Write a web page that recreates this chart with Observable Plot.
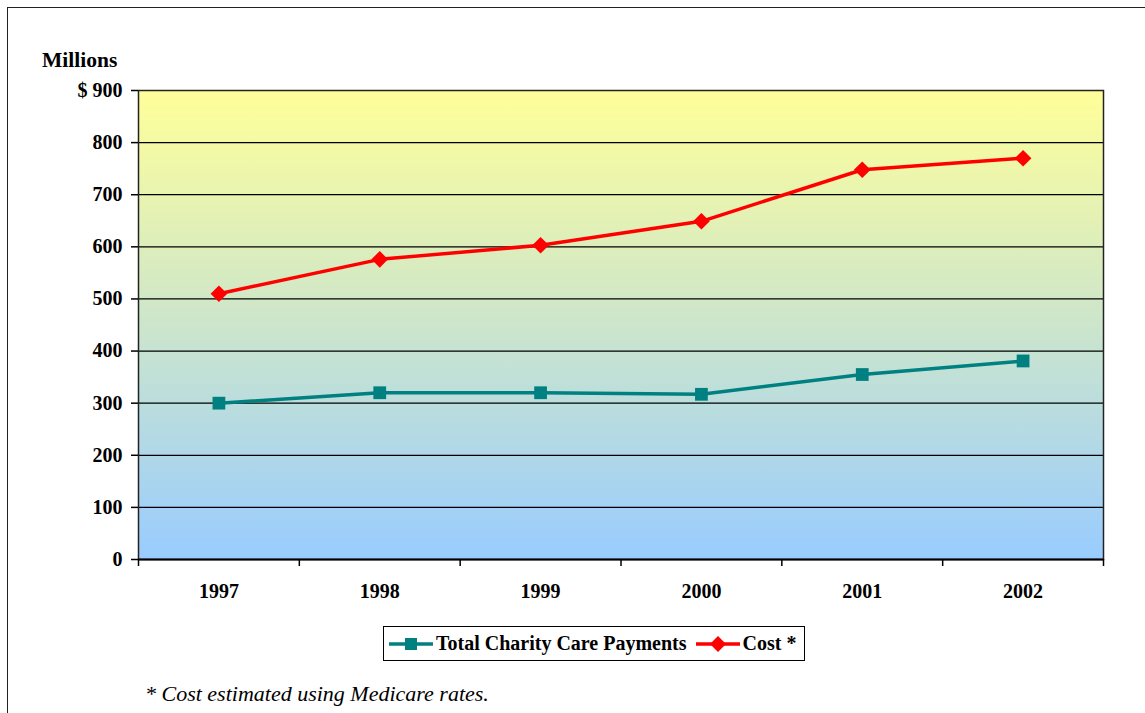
<!DOCTYPE html>
<html>
<head>
<meta charset="utf-8">
<script src="https://cdn.jsdelivr.net/npm/d3@7"></script>
<script src="https://cdn.jsdelivr.net/npm/@observablehq/plot@0.6"></script>
<style>
  html, body { margin: 0; padding: 0; background: #fff; }
  body { width: 1145px; height: 713px; position: relative; overflow: hidden; font-family: "Liberation Serif", "Times New Roman", serif; }
  #frame { position: absolute; left: 7px; top: 7px; width: 1150px; height: 720px; border-top: 1.5px solid #222; border-left: 1.5px solid #222; }
  #chart { position: absolute; left: 0; top: 0; }
  #ylabel { position: absolute; left: 42px; top: 50px; font-weight: bold; font-size: 21.5px; line-height: 1; }
  #legend { position: absolute; left: 383px; top: 626px; width: 422px; height: 35px; box-sizing: border-box; border: 1.5px solid #000; display: flex; align-items: center; font-weight: bold; font-size: 20px; background: #fff; }
  #legend svg { display: block; }
  #legend .item { display: flex; align-items: center; }
  #note { position: absolute; left: 145px; top: 683px; font-style: italic; font-size: 22px; line-height: 1; }
</style>
</head>
<body>
<div id="frame"></div>
<div id="chart"></div>
<div id="ylabel">Millions</div>
<div id="legend"></div>
<div id="note">* Cost estimated using Medicare rates.</div>
<script>
const years = ["1997", "1998", "1999", "2000", "2001", "2002"];
const charityPayments = [300, 320, 320, 317, 355, 381];
const costValues = [510, 576, 603, 649, 748, 770];
const yTicks = [0, 100, 200, 300, 400, 500, 600, 700, 800, 900];
const gridTicks = [100, 200, 300, 400, 500, 600, 700, 800];
const seriesNames = ["Total Charity Care Payments", "Cost *"];
const colors = { charity: "#008080", cost: "#FF0000" };

const charity = years.map((y, i) => ({ i: i + 0.5, year: y, v: charityPayments[i] }));
const cost = years.map((y, i) => ({ i: i + 0.5, year: y, v: costValues[i] }));
const edges = d3.range(0, years.length + 1);
const centers = years.map((_, i) => i + 0.5);

const defs = () => {
  const d = d3.create("svg:defs");
  const g = d.append("linearGradient").attr("id", "bg").attr("x1", 0).attr("y1", 0).attr("x2", 0).attr("y2", 1);
  g.append("stop").attr("offset", "0%").attr("stop-color", "#FFFF99");
  g.append("stop").attr("offset", "100%").attr("stop-color", "#99CCFF");
  return d.node();
};

const chart = Plot.plot({
  width: 1145,
  height: 615,
  marginLeft: 138,
  marginRight: 42,
  marginTop: 90,
  marginBottom: 56,
  style: { fontFamily: "Liberation Serif, Times New Roman, serif", fontSize: "20px", fontWeight: "bold", color: "#000", background: "transparent" },
  x: { type: "linear", domain: [0, years.length] },
  y: { domain: [0, 900] },
  marks: [
    defs,
    Plot.frame({ fill: "url(#bg)" }),
    Plot.ruleY(gridTicks, { stroke: "#000", strokeWidth: 1.2 }),
    Plot.frame({ stroke: "#222", strokeWidth: 1.5 }),
    Plot.ruleY([0], { stroke: "#000", strokeWidth: 2 }),
    Plot.axisY({ ticks: yTicks, tickSize: 7, tickPadding: 9, stroke: "#000", strokeWidth: 1.5,
      tickFormat: d => d === 900 ? "$ 900" : String(d), label: null }),
    Plot.axisX({ ticks: edges, tickSize: 7, tickFormat: () => "", stroke: "#000", strokeWidth: 1.5, label: null }),
    Plot.axisX({ ticks: centers, tickSize: 0, tickPadding: 24, tickFormat: d => years[Math.round(d - 0.5)], label: null }),
    Plot.line(charity, { x: "i", y: "v", stroke: colors.charity, strokeWidth: 3.5 }),
    Plot.dot(charity, { x: "i", y: "v", symbol: "square", r: 7.2, fill: colors.charity }),
    Plot.line(cost, { x: "i", y: "v", stroke: colors.cost, strokeWidth: 3.5 }),
    Plot.dot(cost, { x: "i", y: "v", symbol: "diamond2", r: 7.5, fill: colors.cost })
  ]
});
document.getElementById("chart").appendChild(chart);

// Legend
const legend = d3.select("#legend");
function swatch(color, kind) {
  const s = legend.append("div").attr("class", "item").style("margin-left", kind === "square" ? "5px" : "9px");
  const svg = s.append("svg").attr("width", 44).attr("height", 18);
  svg.append("line").attr("x1", 0).attr("x2", 44).attr("y1", 9).attr("y2", 9).attr("stroke", color).attr("stroke-width", 3.5);
  if (kind === "square") {
    svg.append("rect").attr("x", 16).attr("y", 3).attr("width", 12).attr("height", 12).attr("fill", color);
  } else {
    svg.append("path").attr("d", "M22,1L30,9L22,17L14,9Z").attr("fill", color);
  }
  return s;
}
swatch(colors.charity, "square").append("span").style("margin-left", "3px").text(seriesNames[0]);
swatch(colors.cost, "diamond").append("span").style("margin-left", "3px").text(seriesNames[1]);
</script>
</body>
</html>
